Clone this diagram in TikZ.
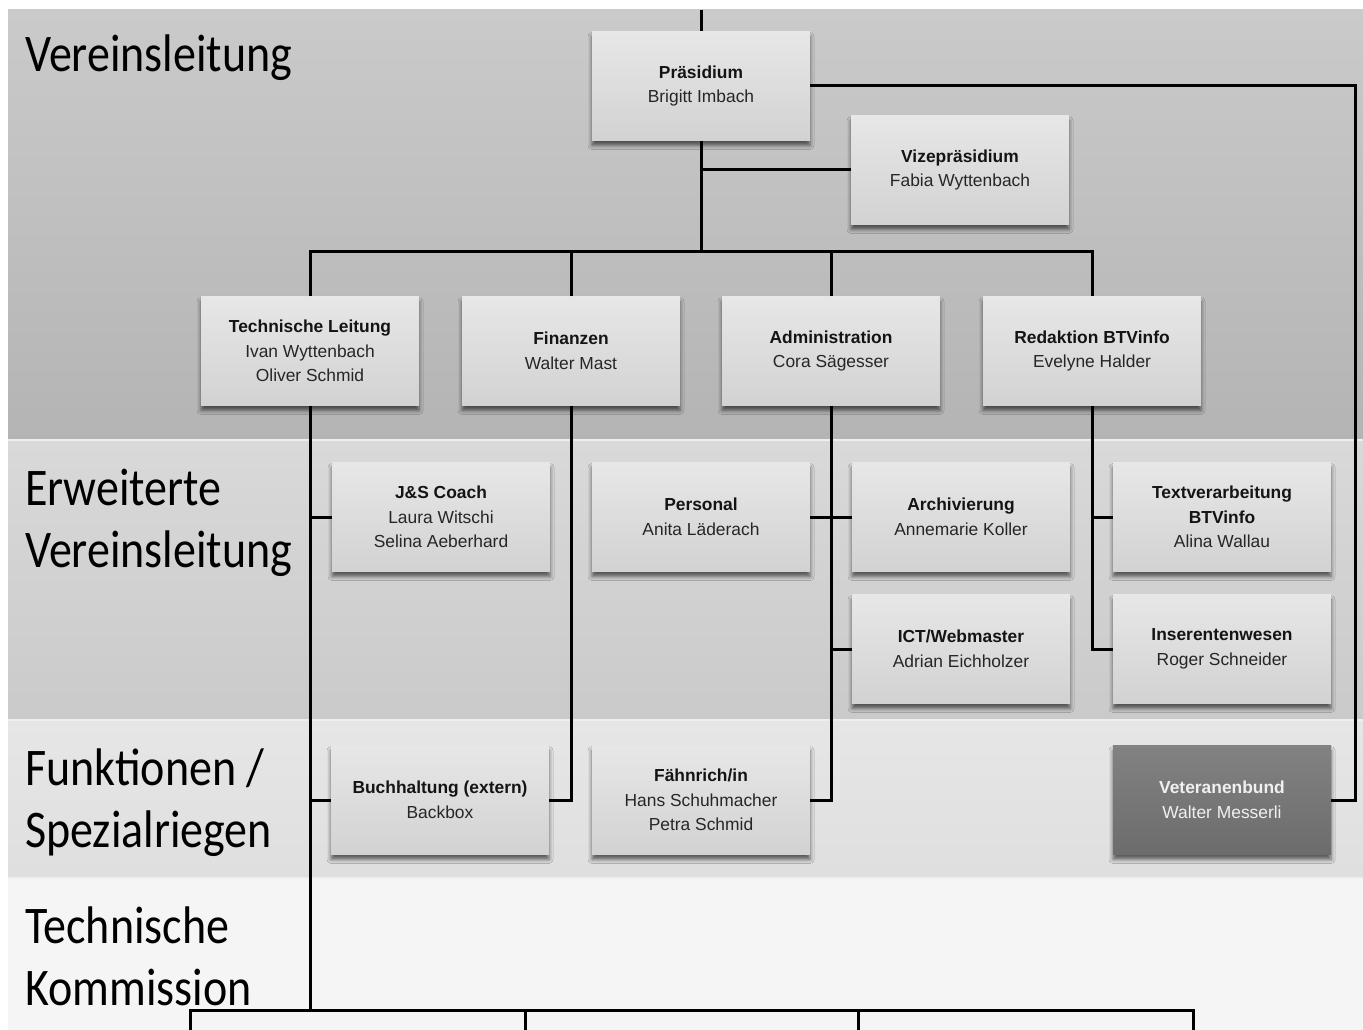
\documentclass[tikz,border=0pt]{standalone}
\usepackage{fontspec}
\setmainfont{Liberation Sans}
\newfontfamily\labfont{Carlito}
\usetikzlibrary{shadows.blur}
\definecolor{bandA}{HTML}{CACACA}
\definecolor{bandAb}{HTML}{B4B4B4}
\definecolor{bandB}{HTML}{D9D9D9}
\definecolor{bandBb}{HTML}{CACACA}
\definecolor{bandC}{HTML}{E6E6E6}
\definecolor{bandCb}{HTML}{DFDFDF}
\definecolor{bandD}{HTML}{F5F5F5}
\definecolor{sepline}{HTML}{EEEEEE}
\definecolor{boxtop}{HTML}{E7E7E7}
\definecolor{boxbot}{HTML}{D2D2D2}
\definecolor{darktop}{HTML}{828282}
\definecolor{darkbot}{HTML}{6C6C6C}
\definecolor{ttl}{HTML}{141414}
\definecolor{nam}{HTML}{262626}
\tikzset{
  orgbox/.style={minimum width=218pt, minimum height=109pt, inner sep=0pt,
    top color=boxtop, bottom color=boxbot, align=center, text=nam,
    font=\fontsize{17.4}{24.5}\selectfont,
    blur shadow={shadow xshift=0pt, shadow yshift=-5pt, shadow blur radius=4pt, shadow opacity=60}},
  darkbox/.style={orgbox, top color=darktop, bottom color=darkbot, text=white!94!black},
  lab/.style={anchor=base west, inner sep=0pt, text=black, font=\labfont\fontsize{46}{62}\selectfont},
  conn/.style={line width=3pt, black, line join=miter},
}
\newcommand{\ttlx}[1]{\textbf{\color{ttl}#1}}
\newcommand{\ttlv}[1]{\textbf{#1}}
\newcommand{\labtxt}[1]{\scalebox{1}[1.15]{#1}}
\begin{document}
\begin{tikzpicture}[x=1pt,y=-1pt]
\useasboundingbox (0,0) rectangle (1363,1030);
\fill[white] (0,0) rectangle (1363,1030);
% bands
\shade[top color=bandA, bottom color=bandAb] (8,10) rectangle (1363,439);
\shade[top color=bandB, bottom color=bandBb] (8,441) rectangle (1363,719);
\shade[top color=bandC, bottom color=bandCb] (8,721) rectangle (1363,877);
\fill[bandD] (8,879) rectangle (1363,1030);
\fill[sepline] (8,439) rectangle (1363,441);
\fill[sepline] (8,719) rectangle (1363,721);
\fill[sepline] (8,877) rectangle (1363,879);
% band labels
\node[lab] (l1) at (25,72) {\labtxt{Vereinsleitung}};
\node[lab] (l2a) at (25,505) {\labtxt{Erweiterte}};
\node[lab] (l2b) at (25,567) {\labtxt{Vereinsleitung}};
\node[lab] (l3a) at (25,785) {\labtxt{Funktionen /}};
\node[lab] (l3b) at (25,847) {\labtxt{Spezialriegen}};
\node[lab] (l4a) at (25,943) {\labtxt{Technische}};
\node[lab] (l4b) at (25,1005) {\labtxt{Kommission}};
% boxes
\node[orgbox] (pr) at (701,86) {\ttlx{Präsidium}\\Brigitt Imbach};
\node[orgbox] (vp) at (960,170) {\ttlx{Vizepräsidium}\\Fabia Wyttenbach};
\node[orgbox] (tl) at (310,351) {\ttlx{Technische Leitung}\\Ivan Wyttenbach\\Oliver Schmid};
\node[orgbox] (fi) at (571,351) {\ttlx{Finanzen}\\Walter Mast};
\node[orgbox] (ad) at (831,351) {\ttlx{Administration}\\Cora Sägesser};
\node[orgbox] (rd) at (1092,351) {\ttlx{Redaktion BTVinfo}\\Evelyne Halder};
\node[orgbox] (js) at (441,517) {\ttlx{J\&S Coach}\\Laura Witschi\\Selina Aeberhard};
\node[orgbox] (pe) at (701,517) {\ttlx{Personal}\\Anita Läderach};
\node[orgbox] (ar) at (961,517) {\ttlx{Archivierung}\\Annemarie Koller};
\node[orgbox] (tv) at (1222,517) {\ttlx{Textverarbeitung}\\\ttlx{BTVinfo}\\Alina Wallau};
\node[orgbox] (ict) at (961,649) {\ttlx{ICT/Webmaster}\\Adrian Eichholzer};
\node[orgbox] (ins) at (1222,649) {\ttlx{Inserentenwesen}\\Roger Schneider};
\node[orgbox] (bh) at (440,800) {\ttlx{Buchhaltung (extern)}\\Backbox};
\node[orgbox] (fa) at (701,800) {\ttlx{Fähnrich/in}\\Hans Schuhmacher\\Petra Schmid};
\node[darkbox] (vb) at (1222,800) {\ttlv{Veteranenbund}\\Walter Messerli};
% coordinates
\coordinate (top) at (701,10);
\coordinate (bus) at (701,251);
\coordinate (rt) at (1355,86);
\coordinate (tkbot) at (310,1010);
\coordinate (k1) at (190,1031);
\coordinate (k2) at (525,1031);
\coordinate (k3) at (858,1031);
\coordinate (k4) at (1193,1031);
% connectors
\draw[conn] (top) -- (pr.north);
\draw[conn] (pr.south) -- (bus);
\draw[conn] (vp.west) -- (vp.west -| pr.south);
\draw[conn] (tl.north) -- (tl.north |- bus) -- (rd.north |- bus) -- (rd.north);
\draw[conn] (fi.north) -- (fi.north |- bus);
\draw[conn] (ad.north) -- (ad.north |- bus);
\draw[conn] (pr.east) -- (pr.east -| rt) |- (vb.east);
\draw[conn] (tl.south) -- (tkbot);
\draw[conn] (js.west) -- (js.west -| tl.south);
\draw[conn] (bh.west) -- (bh.west -| tl.south);
\draw[conn] (k1) -- (k1 |- tkbot) -- (k4 |- tkbot) -- (k4);
\draw[conn] (k2) -- (k2 |- tkbot);
\draw[conn] (k3) -- (k3 |- tkbot);
\draw[conn] (fi.south) |- (bh.east);
\draw[conn] (ad.south) |- (fa.east);
\draw[conn] (pe.east) -- (ar.west);
\draw[conn] (ict.west) -- (ict.west -| ad.south);
\draw[conn] (rd.south) |- (ins.west);
\draw[conn] (tv.west) -- (tv.west -| rd.south);
\end{tikzpicture}
\end{document}
